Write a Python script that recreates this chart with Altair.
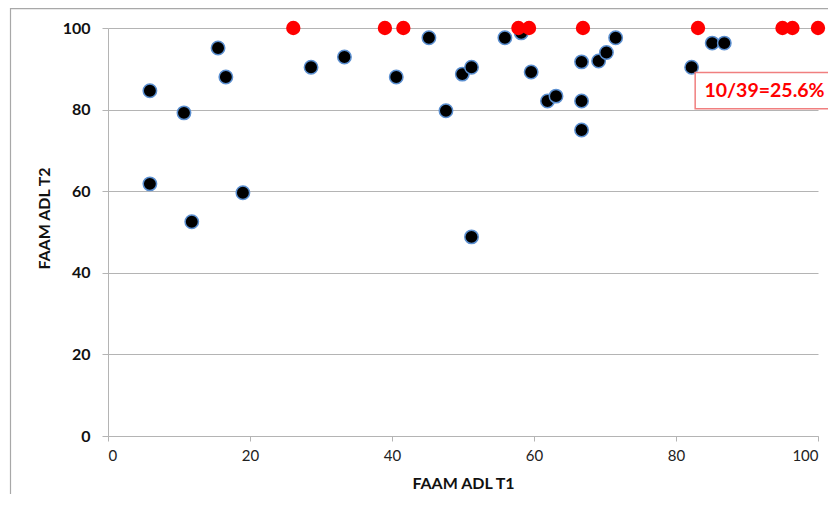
import altair as alt
import pandas as pd

# ---- data ----
black_x = [5.9, 5.9, 10.7, 11.8, 15.5, 16.6, 19.0, 28.6, 33.3, 40.6, 45.2, 47.6, 49.9, 51.2, 51.2,
           55.9, 58.2, 59.6, 61.9, 63.1, 66.7, 66.7, 66.7, 69.1, 70.2, 71.5, 82.2, 85.1, 86.8]
black_y = [84.6, 61.8, 79.2, 52.5, 95.1, 88.0, 59.6, 90.4, 92.9, 88.0, 97.6, 79.7, 88.7, 90.4, 48.8,
           97.6, 98.8, 89.2, 82.1, 83.3, 91.7, 82.1, 75.0, 91.9, 94.0, 97.6, 90.4, 96.3, 96.3]
red_x = [26.1, 39.0, 41.6, 57.8, 59.3, 66.9, 83.1, 95.0, 96.4, 100.0]
red_y = [100, 100, 100, 100, 100, 100, 100, 100, 100, 100]

x_ticks = [0, 20, 40, 60, 80, 100]
y_ticks = [0, 20, 40, 60, 80, 100]
x_title = "FAAM ADL T1"
y_title = "FAAM ADL T2"
note_text = ["10/39=25.6%"]
note_box_x = [82.7]
note_box_x2 = [106.0]
note_box_y = [80.2]
note_box_y2 = [89.1]
note_pos_x = [84.0]
note_pos_y = [84.6]

black = pd.DataFrame({"t1": black_x, "t2": black_y})
red = pd.DataFrame({"t1": red_x, "t2": red_y})
box = pd.DataFrame({"x": note_box_x, "x2": note_box_x2, "y": note_box_y, "y2": note_box_y2})
note = pd.DataFrame({"x": note_pos_x, "y": note_pos_y, "label": note_text})

FONT = "Lato"
GRID = "#b4b4b4"

xscale = alt.Scale(domain=[0, 100], nice=False, zero=False)
yscale = alt.Scale(domain=[0, 100], nice=False, zero=False)

xaxis = alt.Axis(
    values=x_ticks, grid=False, title=x_title,
    domainColor=GRID, tickColor=GRID, tickSize=5,
    labelFont=FONT, labelFontSize=15, labelColor="#222222",
    labelPadding=7,
    titleFont=FONT, titleFontSize=16, titleFontWeight="bold", titleColor="#111111",
    titleBaseline="middle", titleY=47,
)
yaxis = alt.Axis(
    values=y_ticks, grid=True, gridColor=GRID, title=y_title,
    domainColor=GRID, tickColor=GRID, tickSize=6,
    labelFont=FONT, labelFontSize=16, labelFontWeight="bold", labelColor="#111111",
    labelPadding=12,
    titleFont=FONT, titleFontSize=16, titleFontWeight="bold", titleColor="#111111",
    titleBaseline="middle", titleX=-64, titleY=190, titleAngle=-90,
)

# outer chart frame (top and left edges visible in the reference)
frame = alt.Chart(pd.DataFrame({"a": [0]})).mark_rect(
    fill="white", fillOpacity=0, stroke="#a8a8a8", strokeWidth=1.2, clip=False
).encode(
    x=alt.value(-97.5), x2=alt.value(760), y=alt.value(-19.3), y2=alt.value(520)
)

base_black = alt.Chart(black).mark_circle(
    size=180, opacity=1, color="black", stroke="#5b8fd0", strokeWidth=1.5
).encode(
    x=alt.X("t1:Q", scale=xscale, axis=xaxis),
    y=alt.Y("t2:Q", scale=yscale, axis=yaxis),
)

red_pts = alt.Chart(red).mark_circle(size=205, opacity=1, color="#ff0000").encode(
    x=alt.X("t1:Q", scale=xscale),
    y=alt.Y("t2:Q", scale=yscale),
)

box_mark = alt.Chart(box).mark_rect(
    fill="white", stroke="#f07f7f", strokeWidth=1.5, clip=False
).encode(
    x=alt.X("x:Q", scale=xscale), x2="x2:Q",
    y=alt.Y("y:Q", scale=yscale), y2="y2:Q",
)

note_mark = alt.Chart(note).mark_text(
    align="left", baseline="middle", font=FONT, fontSize=19.5, fontWeight="bold", color="#ff0000"
).encode(
    x=alt.X("x:Q", scale=xscale),
    y=alt.Y("y:Q", scale=yscale),
    text="label:N",
)

chart = alt.layer(
    frame, base_black, red_pts, box_mark, note_mark
).properties(
    width=710, height=408,
    autosize=alt.AutoSizeParams(type="none"),
    padding={"left": 100, "top": 20, "right": 10, "bottom": 58},
    background="white",
).configure_view(stroke=None)

chart.save("out.html", embed_options={"renderer": "svg", "actions": False})
